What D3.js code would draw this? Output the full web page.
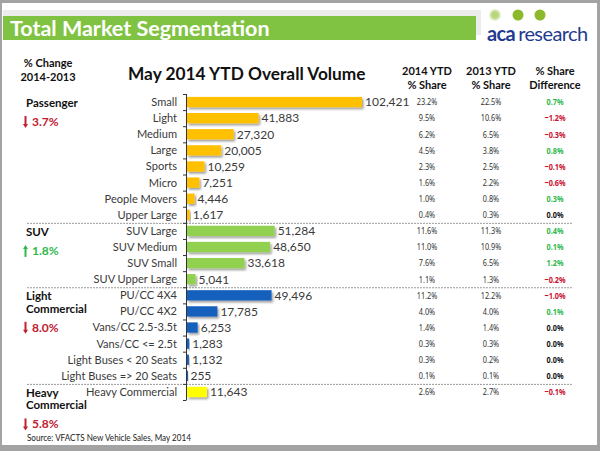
<!DOCTYPE html>
<html><head><meta charset="utf-8">
<script src="https://cdn.jsdelivr.net/npm/d3@7"></script>
<style>
html,body{margin:0;padding:0;background:#fff;}
svg{display:block;font-family:Lato,"Open Sans",sans-serif;}
</style></head>
<body><svg id="c" width="600" height="451"></svg>
<script>
const categories = ["Small","Light","Medium","Large","Sports","Micro","People Movers","Upper Large",
  "SUV Large","SUV Medium","SUV Small","SUV Upper Large",
  "PU/CC 4X4","PU/CC 4X2","Vans/CC 2.5-3.5t","Vans/CC <= 2.5t","Light Buses < 20 Seats","Light Buses => 20 Seats",
  "Heavy Commercial"];
const volumes = [102421,41883,27320,20005,10259,7251,4446,1617,51284,48650,33618,5041,49496,17785,6253,1283,1132,255,11643];
const segmentOf = ["Passenger","Passenger","Passenger","Passenger","Passenger","Passenger","Passenger","Passenger",
  "SUV","SUV","SUV","SUV",
  "Light Commercial","Light Commercial","Light Commercial","Light Commercial","Light Commercial","Light Commercial",
  "Heavy Commercial"];
const share2014 = ["23.2%","9.5%","6.2%","4.5%","2.3%","1.6%","1.0%","0.4%","11.6%","11.0%","7.6%","1.1%","11.2%","4.0%","1.4%","0.3%","0.3%","0.1%","2.6%"];
const share2013 = ["22.5%","10.6%","6.5%","3.8%","2.5%","2.2%","0.8%","0.3%","11.3%","10.9%","6.5%","1.3%","12.2%","4.0%","1.4%","0.3%","0.2%","0.1%","2.7%"];
const shareDiff = [0.7,-1.2,-0.3,0.8,-0.1,-0.6,0.3,0.0,0.4,0.1,1.2,-0.2,-1.0,0.1,0.0,0.0,0.0,0.0,-0.1];
const segments = ["Passenger","SUV","Light Commercial","Heavy Commercial"];
const segmentLabelLines = [["Passenger"],["SUV"],["Light","Commercial"],["Heavy","Commercial"]];
const segmentChange = [-3.7,1.8,-8.0,-5.8];
const segmentColors = ["#FFC000","#92D050","#1560BD","#FFFF00"];
const columnHeaders = [["2014 YTD","% Share"],["2013 YTD","% Share"],["% Share","Difference"]];

const svg = d3.select("#c");
const defs = svg.append("defs");
const f = defs.append("filter").attr("id","sh").attr("x","-10%").attr("y","-30%").attr("width","130%").attr("height","190%");
f.append("feDropShadow").attr("dx",1.5).attr("dy",2).attr("stdDeviation",0.9).attr("flood-color","#000").attr("flood-opacity",0.38);
const bl = defs.append("filter").attr("id","bl");
bl.append("feGaussianBlur").attr("stdDeviation",1);

function condense(sel, k){
  sel.each(function(){
    const w = this.getComputedTextLength();
    d3.select(this).attr("textLength", w*k).attr("lengthAdjust","spacingAndGlyphs");
  });
}

// frame
svg.append("rect").attr("width",600).attr("height",451).attr("fill","#a3a3a3");
svg.append("rect").attr("x",2).attr("y",3).attr("width",595).attr("height",442).attr("fill","#fff");

// header band
svg.append("rect").attr("x",3).attr("y",10).attr("width",478).attr("height",25).attr("fill","#ececec");
svg.append("rect").attr("x",3).attr("y",16).attr("width",473).attr("height",24).attr("fill","#80c342");
svg.append("text").attr("x",10).attr("y",35.5).attr("fill","#fff").attr("font-weight","bold")
  .attr("font-size",21.5).text("Total Market Segmentation");

// logo
const dots = [{x:495,c:"#b9d67a",f:true},{x:518,c:"#8cb92b"},{x:540,c:"#8cb92b"}];
svg.selectAll("circle.logo").data(dots).join("circle").attr("class","logo")
  .attr("cx",d=>d.x).attr("cy",15).attr("r",d=>d.f?5:5.5).attr("fill",d=>d.c)
  .attr("filter",d=>d.f?"url(#bl)":null);
const lg = svg.append("text").attr("x",487).attr("y",41).attr("fill","#1f3a8f").attr("font-size",20);
lg.append("tspan").attr("font-weight","bold").attr("letter-spacing",-0.6).text("aca");
lg.append("tspan").attr("dx",3).attr("letter-spacing",-0.6).text("research");

// headings
const hd = svg.append("text").attr("font-weight","bold").attr("font-size",11).attr("text-anchor","middle").attr("fill","#111");
hd.append("tspan").attr("x",48).attr("y",67).text("% Change");
hd.append("tspan").attr("x",48).attr("y",81).text("2014-2013");
svg.append("text").attr("x",128).attr("y",80).attr("font-weight","bold").attr("font-size",17.3).attr("fill","#111")
  .text("May 2014 YTD Overall Volume");

// scales
const y = d3.scaleBand().domain(categories).range([94,400]).paddingInner(0.36).paddingOuter(0.18);
const x = d3.scaleLinear().domain([0,102421]).range([187,362]);
const color = d3.scaleOrdinal().domain(segments).range(segmentColors);
const rows = categories.map((c,i)=>({c, v:volumes[i], s:segmentOf[i], a:share2014[i], b:share2013[i], d:shareDiff[i]}));
const step = y.step();
const boundary = i => y.range()[0] + i*step;

// separators
const sepIdx = [];
rows.forEach((r,i)=>{ if(i>0 && r.s!==rows[i-1].s) sepIdx.push(i); });
svg.selectAll("line.sep").data(sepIdx).join("line").attr("class","sep")
  .attr("x1",27).attr("x2",573).attr("y1",i=>boundary(i)+0.5).attr("y2",i=>boundary(i)+0.5)
  .attr("stroke","#9a9a9a").attr("stroke-width",1).attr("stroke-dasharray","2,1");

// bars
svg.selectAll("rect.bar").data(rows).join("rect").attr("class","bar")
  .attr("x",x(0)).attr("y",d=>y(d.c)).attr("width",d=>Math.max(1,x(d.v)-x(0))).attr("height",y.bandwidth())
  .attr("fill",d=>color(d.s)).attr("filter","url(#sh)");

// axis with labels
const ax = svg.append("g").attr("transform",`translate(${x(0)-1},0)`)
  .call(d3.axisLeft(y).tickSize(0).tickPadding(9));
ax.select(".domain").remove();
ax.selectAll("text").attr("font-family","Lato,sans-serif").attr("font-size",12.3).attr("fill","#3a3a3a");
condense(ax.selectAll("text"), 0.9);
const axLine = svg.append("g").attr("stroke","#333").attr("stroke-width",1);
axLine.append("line").attr("x1",x(0)-0.5).attr("x2",x(0)-0.5).attr("y1",boundary(0)).attr("y2",boundary(categories.length));
axLine.selectAll("line.tk").data(d3.range(categories.length+1)).join("line").attr("class","tk")
  .attr("x1",x(0)-4).attr("x2",x(0)-0.5).attr("y1",i=>boundary(i)+0.5).attr("y2",i=>boundary(i)+0.5);

// value labels
svg.selectAll("text.val").data(rows).join("text").attr("class","val")
  .attr("x",d=>x(d.v)+3).attr("y",d=>y(d.c)+y.bandwidth()/2+4.3)
  .attr("font-size",12).attr("fill","#3a3a3a").text(d=>d3.format(",")(d.v));

// table headers
const colX = [427,491,555];
columnHeaders.forEach((h,j)=>{
  const t = svg.append("text").attr("font-weight","bold").attr("font-size",11).attr("text-anchor","middle").attr("fill","#111");
  t.append("tspan").attr("x",colX[j]).attr("y",75).text(h[0]);
  t.append("tspan").attr("x",colX[j]).attr("y",89).text(h[1]);
});
const cy = d => y(d.c)+y.bandwidth()/2+3.3;
const tf = "'Noto Sans',sans-serif";
const ta = svg.selectAll("text.a").data(rows).join("text").attr("class","a").attr("x",colX[0]).attr("y",cy)
  .attr("text-anchor","middle").attr("font-family",tf).attr("font-size",9.6).attr("fill","#333").text(d=>d.a);
const tb = svg.selectAll("text.b").data(rows).join("text").attr("class","b").attr("x",colX[1]).attr("y",cy)
  .attr("text-anchor","middle").attr("font-family",tf).attr("font-size",9.6).attr("fill","#333").text(d=>d.b);
const td = svg.selectAll("text.d").data(rows).join("text").attr("class","d").attr("x",colX[2]).attr("y",cy)
  .attr("text-anchor","middle").attr("font-family",tf).attr("font-size",9.6).attr("font-weight","bold")
  .attr("fill",d=>d.d>0?"#2db84b":d.d<0?"#c8102e":"#111")
  .text(d=>d3.format(".1f")(d.d)+"%");
condense(ta,0.76); condense(tb,0.76); condense(td,0.76);

// segment labels
segments.forEach((s,k)=>{
  const first = rows.find(r=>r.s===s);
  const top = y(first.c)+y.bandwidth()/2+5;
  const lines = segmentLabelLines[k];
  const t = svg.append("text").attr("font-weight","bold").attr("font-size",11.5).attr("fill","#111");
  lines.forEach((l,i)=>t.append("tspan").attr("x",26).attr("y",top+i*12.5).text(l));
  const pb = top+(lines.length-1)*12.5+19;
  const up = segmentChange[k]>0;
  const col = up?"#2db84b":"#c0202f";
  svg.append("text").attr("x",32).attr("y",pb).attr("font-weight","bold").attr("font-size",12)
    .attr("fill",col).text(Math.abs(segmentChange[k]).toFixed(1)+"%");
  const ay1 = pb-10, ay2 = pb+2;
  const g = svg.append("g").attr("fill",col).attr("stroke",col);
  if(up){
    g.append("line").attr("x1",25.5).attr("x2",25.5).attr("y1",ay1+3).attr("y2",ay2).attr("stroke-width",2);
    g.append("path").attr("d",`M23,${ay1+4}L25.5,${ay1}L28,${ay1+4}Z`).attr("stroke","none");
  } else {
    g.append("line").attr("x1",25.5).attr("x2",25.5).attr("y1",ay1).attr("y2",ay2-3).attr("stroke-width",2);
    g.append("path").attr("d",`M23,${ay2-4}L25.5,${ay2}L28,${ay2-4}Z`).attr("stroke","none");
  }
});

// source
const src = svg.append("text").attr("x",27).attr("y",441).attr("font-size",9).attr("fill","#222")
  .text("Source: VFACTS New Vehicle Sales, May 2014");
condense(src,0.9);
</script></body></html>
